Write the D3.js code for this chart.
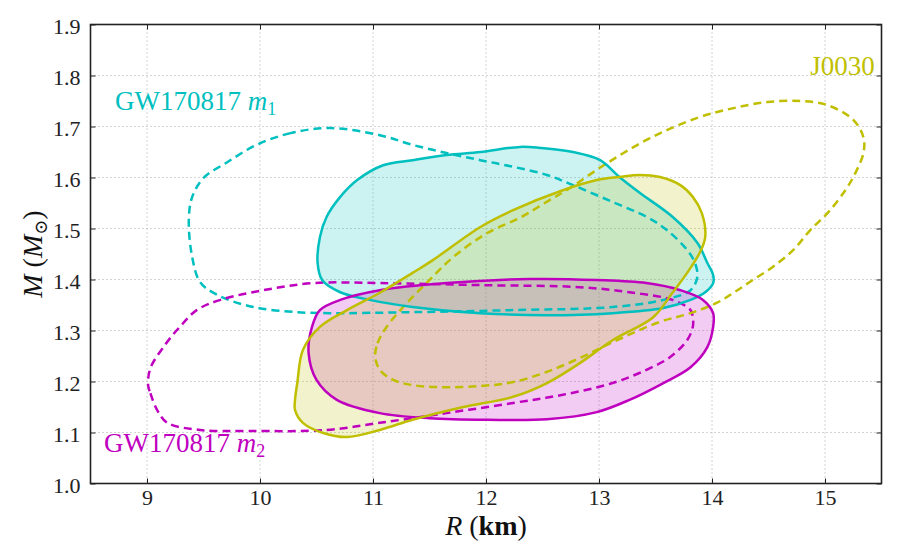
<!DOCTYPE html>
<html>
<head>
<meta charset="utf-8">
<script src="https://d3js.org/d3.v7.min.js"></script>
<style>
  body { margin: 0; background: #fff; }
  text { font-family: 'Liberation Serif', 'DejaVu Serif', serif; }
</style>
</head>
<body>
<svg id="chart" width="900" height="556"></svg>
<script>
// axis ticks
const xTicks = [9, 10, 11, 12, 13, 14, 15];
const yTicks = [1.0, 1.1, 1.2, 1.3, 1.4, 1.5, 1.6, 1.7, 1.8, 1.9];

// contours, [R (km), M (Msun)]
const m1Solid = [
  [10.51,1.432],[10.53,1.483],[10.59,1.523],[10.71,1.562],[10.86,1.595],[11.09,1.624],
  [11.35,1.634],[11.65,1.644],[11.95,1.650],[12.30,1.660],[12.48,1.658],[12.77,1.650],
  [13.01,1.634],[13.18,1.601],[13.36,1.570],[13.65,1.523],[13.87,1.472],[13.96,1.432],
  [14.01,1.409],[14.01,1.393],[13.94,1.375],[13.81,1.360],[13.57,1.344],[13.12,1.334],
  [12.54,1.330],[11.95,1.334],[11.35,1.346],[10.97,1.360],[10.71,1.375],[10.55,1.399]
];
const m1Dashed = [
  [10.62,1.697],[10.27,1.687],[9.97,1.664],[9.71,1.630],[9.50,1.599],[9.40,1.562],
  [9.37,1.517],[9.40,1.444],[9.47,1.395],[9.62,1.370],[9.94,1.346],[10.33,1.336],
  [10.62,1.334],[11.35,1.336],[12.24,1.340],[13.12,1.346],[13.57,1.360],[13.81,1.379],
  [13.87,1.405],[13.85,1.432],[13.78,1.458],[13.60,1.497],[13.42,1.523],[13.12,1.552],
  [12.77,1.585],[12.54,1.605],[12.24,1.621],[11.95,1.634],[11.65,1.648],[11.35,1.664],
  [11.06,1.683]
];
const m2Solid = [
  [12.39,1.401],[12.98,1.399],[13.42,1.393],[13.72,1.379],[13.92,1.360],[14.01,1.334],
  [14.01,1.307],[13.96,1.268],[13.81,1.228],[13.57,1.197],[13.27,1.164],[12.98,1.140],
  [12.54,1.126],[12.01,1.125],[11.50,1.128],[11.06,1.138],[10.68,1.164],[10.50,1.203],
  [10.43,1.256],[10.46,1.307],[10.53,1.340],[10.71,1.360],[11.06,1.379],[11.65,1.393]
];
const m2Dashed = [
  [9.01,1.193],[9.03,1.177],[9.09,1.144],[9.18,1.119],[9.47,1.105],[9.91,1.103],
  [10.59,1.105],[11.06,1.119],[11.65,1.138],[12.24,1.158],[12.68,1.174],[13.12,1.197],
  [13.42,1.223],[13.63,1.248],[13.78,1.281],[13.83,1.307],[13.83,1.326],[13.81,1.340],
  [13.65,1.360],[13.27,1.375],[12.83,1.385],[11.95,1.389],[11.06,1.393],[10.47,1.393],
  [10.03,1.379],[9.65,1.360],[9.44,1.340],[9.29,1.307],[9.16,1.272],[9.03,1.226]
];
const jSolid = [
  [10.33,1.197],[10.38,1.262],[10.53,1.307],[10.77,1.340],[11.06,1.374],[11.35,1.413],
  [11.53,1.438],[11.95,1.503],[12.24,1.536],[12.68,1.575],[12.98,1.595],[13.18,1.601],
  [13.36,1.605],[13.54,1.601],[13.72,1.585],[13.83,1.562],[13.91,1.530],[13.94,1.483],
  [13.89,1.452],[13.78,1.413],[13.65,1.374],[13.48,1.326],[13.12,1.281],[12.83,1.236],
  [12.54,1.197],[12.24,1.170],[11.80,1.150],[11.35,1.125],[11.06,1.105],[10.77,1.091],
  [10.56,1.099],[10.38,1.119],[10.31,1.144],[10.31,1.164]
];
const jDashed = [
  [11.02,1.248],[11.04,1.275],[11.12,1.307],[11.30,1.354],[11.50,1.399],[11.71,1.444],
  [12.01,1.491],[12.30,1.521],[12.52,1.550],[12.74,1.579],[13.07,1.628],[13.45,1.677],
  [13.87,1.717],[14.19,1.736],[14.49,1.748],[14.78,1.750],[15.02,1.742],[15.25,1.713],
  [15.34,1.679],[15.34,1.648],[15.26,1.605],[15.18,1.575],[15.03,1.532],[14.87,1.497],
  [14.72,1.458],[14.54,1.425],[14.36,1.399],[14.19,1.374],[14.04,1.354],[13.81,1.334],
  [13.54,1.317],[13.12,1.277],[12.83,1.246],[12.54,1.219],[12.24,1.199],[11.95,1.191],
  [11.59,1.189],[11.35,1.193],[11.18,1.203],[11.06,1.223]
];

// series: fill order cyan, magenta, yellow
const series = [
  {name: "m1", color: "#00bfbf", solid: m1Solid, dashed: m1Dashed},
  {name: "m2", color: "#bf00bf", solid: m2Solid, dashed: m2Dashed},
  {name: "J0030", color: "#bfbf00", solid: jSolid, dashed: jDashed}
];

const svg = d3.select("#chart"),
      margin = {top: 24.5, right: 18.5, bottom: 72.5, left: 90.5},
      width = +svg.attr("width") - margin.left - margin.right,
      height = +svg.attr("height") - margin.top - margin.bottom;

const x = d3.scaleLinear().domain([8.5, 15.5]).range([margin.left, margin.left + width]);
const y = d3.scaleLinear().domain([1.0, 1.9]).range([margin.top + height, margin.top]);

// grid
svg.append("g").selectAll("line").data(xTicks).join("line")
  .attr("x1", d => x(d)).attr("x2", d => x(d))
  .attr("y1", margin.top).attr("y2", margin.top + height)
  .attr("stroke", "#a8a8a8").attr("stroke-width", 1).attr("stroke-dasharray", "1,3");
svg.append("g").selectAll("line").data(yTicks.slice(1, -1)).join("line")
  .attr("y1", d => y(d)).attr("y2", d => y(d))
  .attr("x1", margin.left).attr("x2", margin.left + width)
  .attr("stroke", "#a8a8a8").attr("stroke-width", 1).attr("stroke-dasharray", "1,3");

const shape = d3.line().x(d => x(d[0])).y(d => y(d[1])).curve(d3.curveCatmullRomClosed.alpha(0.5));

// fills
svg.append("g").selectAll("path").data(series).join("path")
  .attr("d", d => shape(d.solid))
  .attr("fill", d => d.color).attr("fill-opacity", 0.2).attr("stroke", "none");

// dashed outlines
svg.append("g").selectAll("path").data(series).join("path")
  .attr("d", d => shape(d.dashed))
  .attr("fill", "none").attr("stroke", d => d.color)
  .attr("stroke-width", 2.5).attr("stroke-dasharray", "8,5");

// solid outlines
svg.append("g").selectAll("path").data(series).join("path")
  .attr("d", d => shape(d.solid))
  .attr("fill", "none").attr("stroke", d => d.color).attr("stroke-width", 2.5);

// axes with inward ticks
const tickFont = g => g.selectAll("text").attr("font-family", "'Liberation Serif', serif")
  .attr("font-size", 22).attr("fill", "#222");
svg.append("g").attr("transform", `translate(0,${margin.top + height})`)
  .call(d3.axisBottom(x).tickValues(xTicks).tickFormat(d3.format("d")).tickSizeInner(-5).tickSizeOuter(0).tickPadding(6))
  .call(g => g.select(".domain").remove()).call(tickFont);
svg.append("g").attr("transform", `translate(0,${margin.top})`)
  .call(d3.axisTop(x).tickValues(xTicks).tickFormat("").tickSizeInner(-5).tickSizeOuter(0))
  .call(g => g.select(".domain").remove());
svg.append("g").attr("transform", `translate(${margin.left},0)`)
  .call(d3.axisLeft(y).tickValues(yTicks).tickFormat(d3.format(".1f")).tickSizeInner(-5).tickSizeOuter(0).tickPadding(10))
  .call(g => g.select(".domain").remove()).call(tickFont)
  .call(g => g.selectAll("text").attr("dy", "0.4em"));
svg.append("g").attr("transform", `translate(${margin.left + width},0)`)
  .call(d3.axisRight(y).tickValues(yTicks).tickFormat("").tickSizeInner(-5).tickSizeOuter(0))
  .call(g => g.select(".domain").remove());
svg.selectAll(".tick line").attr("stroke", "#222").attr("stroke-width", 1);

// frame
svg.append("rect").attr("x", margin.left).attr("y", margin.top)
  .attr("width", width).attr("height", height)
  .attr("fill", "none").attr("stroke", "#222").attr("stroke-width", 1.6);

// axis labels
const xl = svg.append("text").attr("x", x(12)).attr("y", 535)
  .attr("text-anchor", "middle").attr("font-size", 28).attr("fill", "#111");
xl.append("tspan").attr("font-style", "italic").text("R");
xl.append("tspan").text(" (");
xl.append("tspan").attr("font-weight", "bold").text("km");
xl.append("tspan").text(")");

const yl = svg.append("text")
  .attr("transform", `translate(42,${y(1.45)}) rotate(-90)`)
  .attr("text-anchor", "middle").attr("font-size", 28).attr("fill", "#111");
yl.append("tspan").attr("font-style", "italic").text("M");
yl.append("tspan").text(" (");
yl.append("tspan").attr("font-style", "italic").text("M");
yl.append("tspan").attr("font-size", 18).attr("dy", 5).text("⊙");
yl.append("tspan").attr("dy", -5).text(")");

// annotations
function label(txt, sub, px, py, color, anchor) {
  const t = svg.append("text").attr("x", x(px)).attr("y", y(py))
    .attr("font-size", 27).attr("fill", color).attr("text-anchor", anchor || "start");
  t.append("tspan").text(txt);
  if (sub) {
    t.append("tspan").attr("font-style", "italic").text(" m");
    t.append("tspan").attr("font-size", 18).attr("dy", 5).text(sub);
  }
}
label("GW170817", "1", 8.717, 1.732, "#00bfbf");
label("GW170817", "2", 8.62, 1.062, "#bf00bf");
label("J0030", null, 15.44, 1.801, "#bfbf00", "end");
</script>
</body>
</html>
